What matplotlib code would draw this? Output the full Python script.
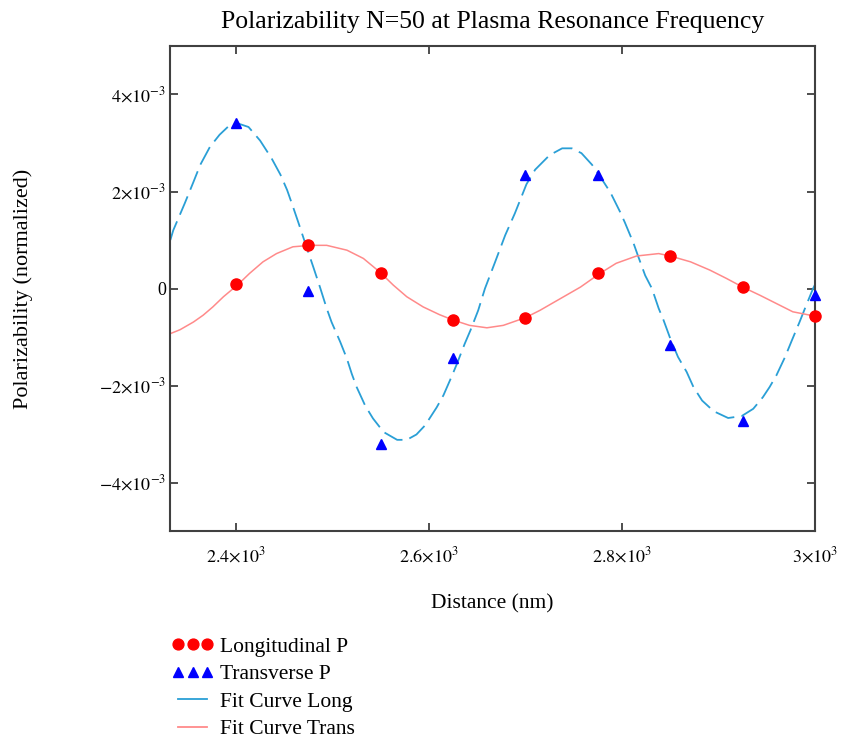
import matplotlib
matplotlib.use('Agg')
from matplotlib import pyplot as plt
from matplotlib.lines import Line2D
from matplotlib.ticker import FuncFormatter

# Точки измерений (x в нм, y в единицах 1e-3)
dist = [2400, 2475, 2550, 2625, 2700, 2775, 2850, 2925, 3000]
long_p = [0.09, 0.89, 0.33, -0.65, -0.60, 0.31, 0.66, 0.03, -0.56]
trans_p = [3.42, -0.05, -3.20, -1.43, 2.34, 2.34, -1.16, -2.74, -0.14]

# Кривая аппроксимации (синяя, штриховая)
fit_long_x = [2332, 2335, 2347, 2356, 2363, 2373, 2383, 2392, 2401, 2413, 2425, 2437,
              2446, 2453, 2459, 2465, 2473, 2480, 2487, 2494, 2499, 2508, 2515, 2520,
              2525, 2534, 2542, 2553, 2567, 2577, 2587, 2596, 2608, 2615, 2624, 2629,
              2637, 2643, 2651, 2658, 2668, 2679, 2689, 2693, 2701, 2710, 2725, 2738,
              2748, 2758, 2769, 2775, 2788, 2798, 2803, 2812, 2817, 2824, 2831, 2838,
              2843, 2850, 2858, 2867, 2874, 2883, 2895, 2910, 2924, 2936, 2946, 2953,
              2960, 2969, 2976, 2984, 2991, 2998, 3000]
fit_long_y = [1.00, 1.20, 1.76, 2.20, 2.55, 2.92, 3.17, 3.34, 3.41, 3.33, 3.05, 2.68,
              2.35, 2.03, 1.69, 1.34, 0.86, 0.45, 0.03, -0.41, -0.69, -1.10, -1.45, -1.76,
              -2.03, -2.42, -2.68, -2.96, -3.12, -3.12, -3.01, -2.82, -2.45, -2.20, -1.79, -1.55,
              -1.14, -0.86, -0.45, 0.00, 0.52, 1.10, 1.55, 1.75, 2.15, 2.45, 2.75, 2.89,
              2.89, 2.79, 2.55, 2.38, 1.98, 1.58, 1.36, 0.93, 0.65, 0.27, 0.00, -0.41,
              -0.65, -1.03, -1.41, -1.72, -2.03, -2.31, -2.53, -2.67, -2.63, -2.48, -2.24, -2.03,
              -1.79, -1.41, -1.07, -0.69, -0.34, 0.00, 0.08]

# Кривая аппроксимации (красная)
fit_trans_x = [2332, 2342, 2356, 2366, 2376, 2387, 2402, 2414, 2428, 2442, 2459, 2477,
               2494, 2515, 2532, 2549, 2563, 2577, 2594, 2611, 2625, 2642, 2660, 2677,
               2700, 2715, 2736, 2757, 2767, 2777, 2794, 2815, 2838, 2850, 2871, 2891,
               2908, 2925, 2943, 2960, 2977, 3000]
fit_trans_y = [-0.93, -0.85, -0.69, -0.55, -0.38, -0.17, 0.08, 0.31, 0.55, 0.72, 0.86, 0.89,
               0.89, 0.79, 0.62, 0.34, 0.07, -0.17, -0.38, -0.54, -0.65, -0.76, -0.81, -0.76,
               -0.60, -0.45, -0.21, 0.03, 0.17, 0.31, 0.52, 0.67, 0.72, 0.67, 0.55, 0.38,
               0.21, 0.03, -0.14, -0.31, -0.48, -0.57]

x_ticks = [2400, 2600, 2800, 3000]
y_ticks = [-4e-3, -2e-3, 0, 2e-3, 4e-3]


def sci_label(v, pos=None):
    """Подпись вида 4x10^-3"""
    if v == 0:
        return '0'
    exp = 0
    m = abs(v)
    while m >= 10:
        m /= 10
        exp += 1
    while m < 1:
        m *= 10
        exp -= 1
    m = round(m, 2)
    m_txt = ('%g' % m)
    sign = '-' if v < 0 else ''
    return r'$%s%s{\times}10^{%d}$' % (sign, m_txt, exp)


plt.rcParams['font.family'] = ['Liberation Serif', 'DejaVu Serif']
plt.rcParams['mathtext.fontset'] = 'stix'

fig = plt.figure(figsize=(8.41, 7.43), dpi=100)
ax = fig.add_axes([0.2021, 0.2853, 0.7670, 0.6528])

s = 1e-3
ax.plot(fit_long_x, [v * s for v in fit_long_y], c='#2a9fd6', linewidth=1.3,
        linestyle=(0, (11, 4)), zorder=2)
ax.plot(fit_trans_x, [v * s for v in fit_trans_y], c='#ff8a8a', linewidth=1.1, zorder=2)
ax.plot(dist, [v * s for v in long_p], 'o', c='red', markersize=8, zorder=3, clip_on=False)
ax.plot(dist, [v * s for v in trans_p], '^', c='blue', markersize=7.5, zorder=3, clip_on=False)

ax.set_xlim(2331.6, 3000)
ax.set_ylim(-5e-3, 5e-3)
ax.set_xticks(x_ticks)
ax.set_yticks(y_ticks)
ax.xaxis.set_major_formatter(FuncFormatter(sci_label))
ax.yaxis.set_major_formatter(FuncFormatter(sci_label))
ax.tick_params(direction='in', length=6, width=1.3, color='#404040', top=True, right=True,
               labelsize=13)
ax.tick_params(axis='x', pad=11)
ax.tick_params(axis='y', pad=3)
for sp in ax.spines.values():
    sp.set_color('#404040')
    sp.set_linewidth(1.5)

ax.set_title('Polarizability N=50 at Plasma Resonance Frequency', fontsize=18.5, pad=13)
ax.set_xlabel('Distance (nm)', fontsize=15.5, labelpad=20)
ax.set_ylabel('Polarizability (normalized)', fontsize=16, labelpad=47)

handles = [
    Line2D([], [], marker='o', linestyle='none', c='red', markersize=7.8),
    Line2D([], [], marker='^', linestyle='none', c='blue', markersize=7.5),
    Line2D([], [], c='#2a9fd6', linewidth=1.3),
    Line2D([], [], c='#ff8a8a', linewidth=1.3),
]
labels = ['Longitudinal P', 'Transverse P', 'Fit Curve Long', 'Fit Curve Trans']
fig.legend(handles, labels, loc='upper left', bbox_to_anchor=(0.194, 0.155),
           numpoints=3, frameon=False, fontsize=15.5, handlelength=1.95,
           handletextpad=0.28, labelspacing=0.35, borderaxespad=0)

fig.savefig('out.png', dpi=100)
